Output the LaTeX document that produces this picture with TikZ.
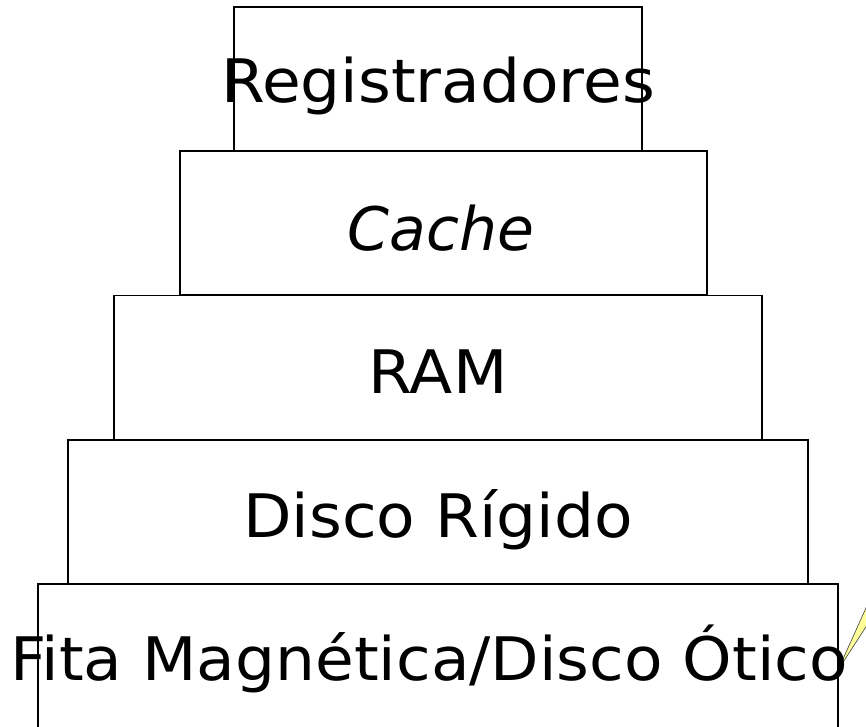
\documentclass[tikz,border=0pt]{standalone}
\usepackage{fontspec}
\setmainfont[FakeStretch=1.05]{DejaVu Sans}
\newfontfamily\slantedlabel{DejaVu Sans}
\begin{document}
\begin{tikzpicture}[x=0.75pt,y=-0.75pt,
  level/.style={draw=black,line width=1.4pt,fill=white,rectangle,
    inner sep=0pt,outer sep=0pt,minimum height=144*0.75pt},
  label/.style={anchor=base,inner sep=0pt,font=\fontsize{45}{54}\selectfont},
  pointer/.style={fill={rgb,255:red,255;green,255;blue,153},draw=black!70,line width=0.5pt}]
\useasboundingbox (0,0) rectangle (866,727);
\clip (0,0) rectangle (866,727);
% storage hierarchy levels, top to bottom
\node[level,minimum width=408*0.75pt] (reg)   at (438,79)    {};
\node[level,minimum width=527*0.75pt] (cache) at (443.5,223) {};
\node[level,minimum width=648*0.75pt] (ram)   at (438,367.5) {};
\node[level,minimum width=740*0.75pt] (disco) at (438,512)   {};
\node[level,minimum width=800*0.75pt] (fita)  at (438,656)   {};
% callout pointer at the right edge
\coordinate (tip) at (838,670);
\fill[pointer] (tip) -- (893,548) -- (893,585) -- cycle;
% labels
\node[label] (treg)   at (438,103) {Registradores};
\node[label] (tcache) at (441,250) {\slantedlabel\itshape Cache};
\node[label] (tram)   at (438,393) {RAM};
\node[label] (tdisco) at (438,537) {Disco Rígido};
\node[label] (tfita)  at (429,680) {Fita Magnética/Disco Ótico};
\end{tikzpicture}
\end{document}
